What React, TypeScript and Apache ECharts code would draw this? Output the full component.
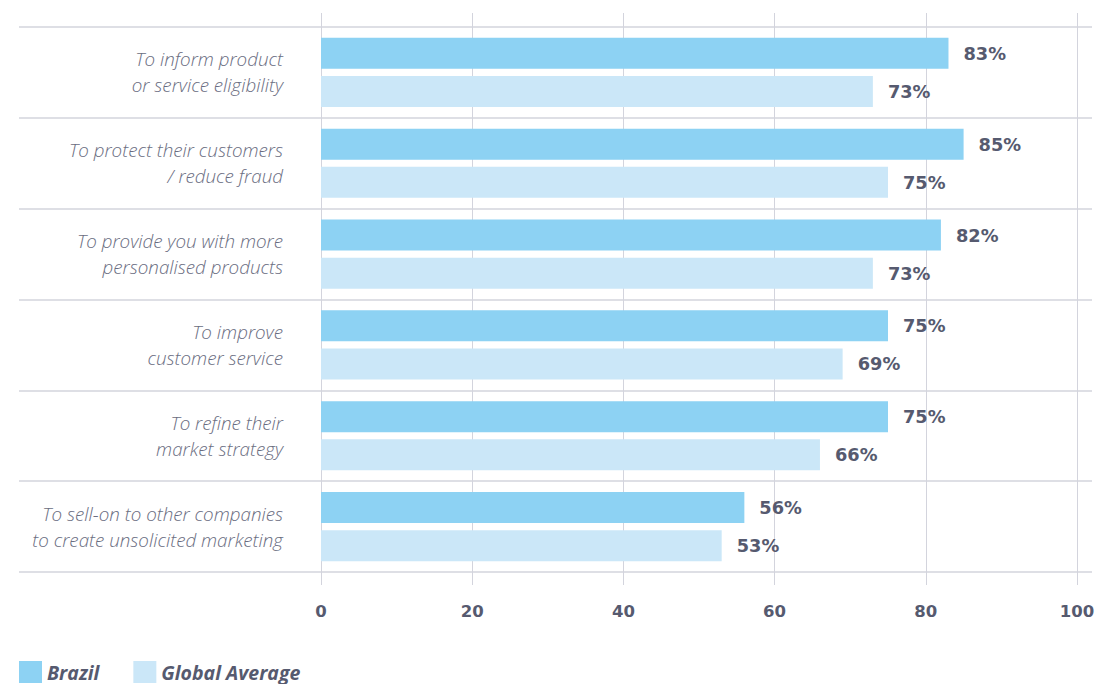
import React, { useEffect, useRef } from "react";
import * as echarts from "echarts";

const categories = [
  "To inform product\nor service eligibility",
  "To protect their customers\n/ reduce fraud",
  "To provide you with more\npersonalised products",
  "To improve\ncustomer service",
  "To refine their\nmarket strategy",
  "To sell-on to other companies\nto create unsolicited marketing",
];
const brazil = [83, 85, 82, 75, 75, 56];
const globalAverage = [73, 75, 73, 69, 66, 53];
const xTicks = [0, 20, 40, 60, 80, 100];

const BRAZIL = "#8dd2f3";
const GLOBAL = "#cbe7f8";
const TEXT = "#565a6f";
const LABEL = "#6a6d81";
const GRID = "#d3d4dd";
const FONT = "'Open Sans', Lato, sans-serif";
const NUMFONT = "'DejaVu Sans', sans-serif";

export default function App() {
  const ref = useRef<HTMLDivElement>(null);
  useEffect(() => {
    const chart = echarts.init(ref.current!, null, { renderer: "svg" });
    const valueLabel = {
      show: true,
      position: "right",
      distance: 15,
      formatter: "{c}%",
      color: TEXT,
      fontFamily: NUMFONT,
      fontWeight: "bold",
      fontSize: 17.8,
    };
    chart.setOption({
      animation: false,
      backgroundColor: "#ffffff",
      legend: {
        left: 19,
        top: 661,
        padding: 0,
        itemWidth: 23,
        itemHeight: 22,
        itemGap: 34,
        icon: "rect",
        textStyle: {
          color: TEXT,
          fontFamily: FONT,
          fontWeight: "bold",
          fontStyle: "italic",
          fontSize: 19.5,
          lineHeight: 20,
        },
        data: ["Brazil", "Global Average"],
      },
      grid: [
        { left: 321, right: 23, top: 27, bottom: 112 },
        { left: 19, right: 8, top: 27, bottom: 112 },
        { left: 321, right: 23, top: 13, bottom: 99 },
      ],
      xAxis: [
        {
          gridIndex: 0,
          type: "value",
          min: 0,
          max: 100,
          interval: 20,
          axisLine: { show: false },
          axisTick: { show: false },
          splitLine: { show: false },
          axisLabel: { show: false },
        },
        {
          gridIndex: 1,
          type: "value",
          min: 0,
          max: 1,
          show: false,
        },
        {
          gridIndex: 2,
          type: "value",
          min: 0,
          max: 100,
          interval: 20,
          data: xTicks,
          axisLine: { show: false },
          axisTick: { show: false },
          splitLine: { show: true, lineStyle: { color: GRID, width: 1 } },
          axisLabel: {
            show: true,
            margin: 18,
            color: TEXT,
            fontFamily: NUMFONT,
            fontWeight: "bold",
            fontSize: 16.5,
          },
        },
      ],
      yAxis: [
        {
          gridIndex: 0,
          type: "category",
          data: categories,
          inverse: true,
          axisLine: { show: false },
          axisTick: { show: false },
          splitLine: { show: false },
          axisLabel: {
            margin: 38,
            color: LABEL,
            fontFamily: FONT,
            fontStyle: "italic",
            fontWeight: 300,
            fontSize: 18.8,
            lineHeight: 26,
            align: "right",
          },
        },
        {
          gridIndex: 1,
          type: "category",
          data: categories,
          inverse: true,
          axisLine: { show: false },
          axisTick: { show: false },
          axisLabel: { show: false },
          splitLine: { show: true, lineStyle: { color: GRID, width: 1.5 } },
        },
        {
          gridIndex: 2,
          type: "category",
          data: categories,
          show: false,
        },
      ],
      series: [
        {
          name: "Brazil",
          type: "bar",
          xAxisIndex: 0,
          yAxisIndex: 0,
          data: brazil,
          barWidth: 31,
          barGap: "23%",
          itemStyle: { color: BRAZIL },
          label: valueLabel,
          z: 3,
        },
        {
          name: "Global Average",
          type: "bar",
          xAxisIndex: 0,
          yAxisIndex: 0,
          data: globalAverage,
          barWidth: 31,
          barGap: "23%",
          itemStyle: { color: GLOBAL },
          label: valueLabel,
          z: 3,
        },
      ],
    });
    return () => chart.dispose();
  }, []);
  return <div ref={ref} style={{ width: 1100, height: 684, position: "absolute", left: 0, top: 0 }} />;
}
